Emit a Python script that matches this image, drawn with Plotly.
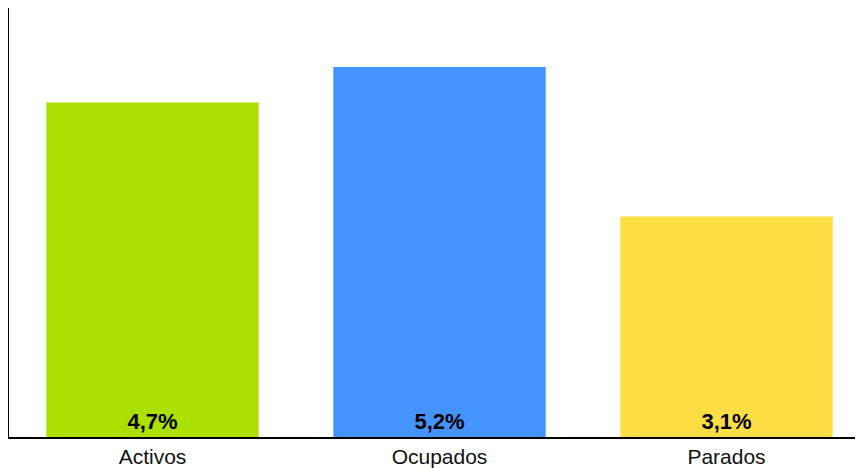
import plotly.graph_objects as go

categories = ["Activos", "Ocupados", "Parados"]
values = [4.7, 5.2, 3.1]
labels = ["4,7%", "5,2%", "3,1%"]
colors = ["#ADE000", "#4493FF", "#FFDD44"]

fig = go.Figure(go.Bar(
    x=categories, y=values, text=labels,
    textposition="inside", insidetextanchor="start", textangle=0,
    marker=dict(color=colors, line=dict(width=0)),
    textfont=dict(family="Liberation Sans", size=22, color="black", weight="bold"),
    hoverinfo="skip",
))
fig.update_layout(
    width=862, height=460,
    margin=dict(l=1, r=0, t=0, b=29),
    paper_bgcolor="white", plot_bgcolor="white",
    bargap=0.26, showlegend=False,
    font=dict(family="Liberation Sans", size=21, color="#111111"),
)
fig.update_xaxes(showline=True, linecolor="black", linewidth=2, ticks="", showgrid=False,
                 tickfont=dict(size=21))
fig.update_yaxes(range=[0, 6.03], showline=True, linecolor="black", linewidth=2,
                 showticklabels=False, ticks="", showgrid=False, zeroline=False)
fig.write_html("out.html")
